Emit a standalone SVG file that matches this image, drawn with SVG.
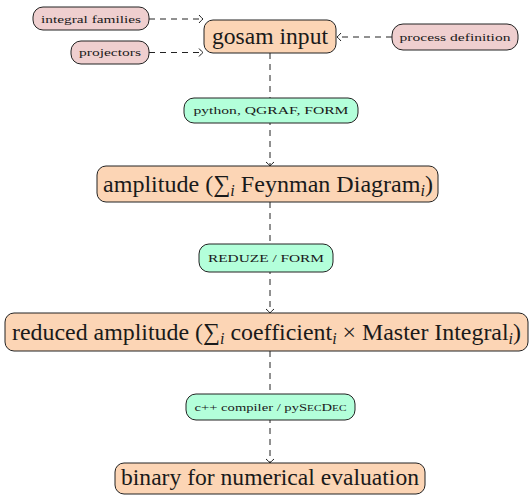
<svg xmlns="http://www.w3.org/2000/svg" width="532" height="496" viewBox="0 0 532 496">
<defs>
<style>
.main{fill:#fcd5b5;stroke:#222;stroke-width:1}
.inp{fill:#efcfcf;stroke:#222;stroke-width:1}
.tool{fill:#b3ffda;stroke:#222;stroke-width:1}
.conn{fill:none;stroke:#222;stroke-width:1;stroke-dasharray:6 5}
</style>
<marker id="to" markerUnits="userSpaceOnUse" markerWidth="12" markerHeight="12" refX="0" refY="0" viewBox="-6 -6 12 12" orient="auto" overflow="visible">
<path d="M-4,-4 Q-1.2,-0.8 0,0 Q-1.2,0.8 -4,4" fill="none" stroke="#222" stroke-width="1"/>
</marker>
</defs>
<rect width="532" height="496" fill="#fff"/>
<g id="connectors">
<path class="conn" d="M149,19 H203" marker-end="url(#to)"/>
<path class="conn" d="M149,52.5 H203" marker-end="url(#to)"/>
<path class="conn" d="M392,37 H337" marker-end="url(#to)"/>
<path class="conn" d="M270,53 V166" marker-end="url(#to)"/>
<path class="conn" d="M270,202 V313" marker-end="url(#to)"/>
<path class="conn" d="M270,351 V463" marker-end="url(#to)"/>
</g>
<g id="integral-families">
<rect class="inp" x="33" y="7" width="116" height="23" rx="10"/>
<text font-family="'Liberation Serif', serif" font-size="11" fill="#1a1a1a" text-anchor="middle" x="91" y="22.5" textLength="100" lengthAdjust="spacingAndGlyphs">integral families</text>
</g>
<g id="projectors">
<rect class="inp" x="71" y="41" width="78" height="23" rx="10"/>
<text font-family="'Liberation Serif', serif" font-size="11" fill="#1a1a1a" text-anchor="middle" x="110" y="56" textLength="62" lengthAdjust="spacingAndGlyphs">projectors</text>
</g>
<g id="gosam-input">
<rect class="main" x="204" y="20" width="132" height="33" rx="9"/>
<text font-family="'Liberation Serif', serif" font-size="23" fill="#1a1a1a" text-anchor="middle" x="270" y="44" textLength="116" lengthAdjust="spacingAndGlyphs">gosam input</text>
</g>
<g id="process-definition">
<rect class="inp" x="392" y="24" width="126" height="26" rx="11"/>
<text font-family="'Liberation Serif', serif" font-size="11" fill="#1a1a1a" text-anchor="middle" x="455" y="40.5" textLength="111" lengthAdjust="spacingAndGlyphs">process definition</text>
</g>
<g id="python-qgraf-form">
<rect class="tool" x="184" y="98" width="174" height="25" rx="10"/>
<text font-family="'Liberation Serif', serif" font-size="11" fill="#1a1a1a" text-anchor="middle" x="271" y="114" textLength="155" lengthAdjust="spacingAndGlyphs">python, QGRAF, FORM</text>
</g>
<g id="amplitude">
<rect class="main" x="97" y="166" width="341" height="36" rx="9"/>
<text font-family="'Liberation Serif', serif" font-size="24" fill="#1a1a1a" text-anchor="middle" x="268" y="192" textLength="330" lengthAdjust="spacingAndGlyphs">amplitude (∑<tspan font-style="italic" font-size="16" dy="4">i</tspan><tspan dy="-4"> Feynman Diagram</tspan><tspan font-style="italic" font-size="16" dy="4">i</tspan><tspan dy="-4">)</tspan></text>
</g>
<g id="reduze-form">
<rect class="tool" x="199" y="244" width="134" height="28" rx="10"/>
<text font-family="'Liberation Serif', serif" font-size="10" fill="#1a1a1a" text-anchor="middle" x="266" y="261.5" textLength="116" lengthAdjust="spacingAndGlyphs">REDUZE / FORM</text>
</g>
<g id="reduced-amplitude">
<rect class="main" x="5" y="313" width="523" height="38" rx="9"/>
<text font-family="'Liberation Serif', serif" font-size="24" fill="#1a1a1a" text-anchor="middle" x="266.5" y="340" textLength="509" lengthAdjust="spacingAndGlyphs">reduced amplitude (∑<tspan font-style="italic" font-size="16" dy="4">i</tspan><tspan dy="-4"> coefficient</tspan><tspan font-style="italic" font-size="16" dy="4">i</tspan><tspan dy="-4"> × Master Integral</tspan><tspan font-style="italic" font-size="16" dy="4">i</tspan><tspan dy="-4">)</tspan></text>
</g>
<g id="cpp-pysecdec">
<rect class="tool" x="186" y="394" width="169" height="26" rx="10"/>
<text font-family="'Liberation Serif', serif" font-size="11" fill="#1a1a1a" text-anchor="middle" x="270.5" y="410.5" textLength="152" lengthAdjust="spacingAndGlyphs">c++ compiler / pyS<tspan font-size="8.5">EC</tspan>D<tspan font-size="8.5">EC</tspan></text>
</g>
<g id="binary">
<rect class="main" x="115" y="463" width="310" height="31" rx="9"/>
<text font-family="'Liberation Serif', serif" font-size="23" fill="#1a1a1a" text-anchor="middle" x="270" y="485" textLength="298" lengthAdjust="spacingAndGlyphs">binary for numerical evaluation</text>
</g>
</svg>
